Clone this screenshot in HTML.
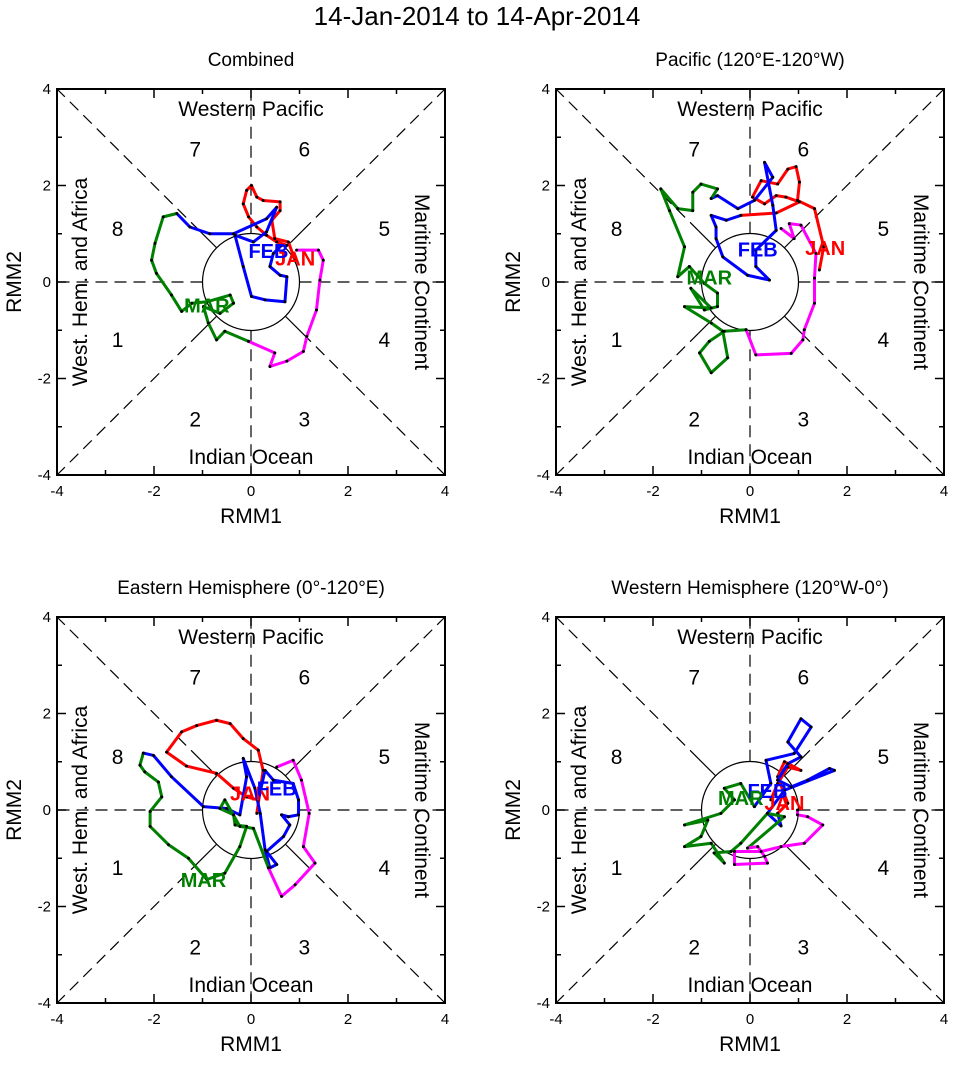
<!DOCTYPE html>
<html><head><meta charset="utf-8"><style>
body{margin:0;background:#fff}
svg text{font-family:"Liberation Sans",sans-serif}
</style></head><body>
<svg id="s" width="954" height="1060" xmlns="http://www.w3.org/2000/svg">
<text x="477" y="25" font-size="26" text-anchor="middle">14-Jan-2014 to 14-Apr-2014</text>
</svg>
<script>
const panelTitles=["Combined","Pacific (120°E-120°W)","Eastern Hemisphere (0°-120°E)","Western Hemisphere (120°W-0°)"];
const tickLabels=["-4","-2","0","2","4"];
const tickValues=[-4,-2,0,2,4];
const monthNames=["JAN","FEB","MAR"];
const monthColors=["#ff0000","#0000ff","#008000","#ff00ff"];
const jan1=[[0.91,0.45],[0.77,0.83],[0.49,0.90],[0.43,1.28],[0.60,1.48],[0.60,1.66],[0.25,1.69],[0.12,1.76],[0.01,2.0],[-0.09,1.90],[-0.16,1.62],[-0.05,1.35],[0.12,1.14],[0.32,0.97],[0.53,0.83],[0.74,0.76],[0.63,0.76]];
const feb1=[[0.63,0.76],[0.46,0.59],[0.39,0.32],[0.60,0.14],[0.74,0.11],[0.70,-0.41],[0.29,-0.37],[0.01,-0.30],[-0.16,0.32],[-0.33,0.97],[0.05,0.83],[0.32,1.04],[0.53,1.55],[0.32,1.31],[-0.36,1.0],[-0.85,1.0],[-1.26,1.14],[-1.53,1.42]];
const mar1=[[-1.53,1.42],[-1.81,1.35],[-1.98,0.80],[-2.05,0.45],[-1.95,0.18],[-1.64,-0.27],[-1.43,-0.61],[-1.22,-0.44],[-0.91,-0.41],[-0.43,-0.27],[-0.36,-0.44],[-0.64,-0.65],[-0.98,-0.51],[-0.88,-0.85],[-0.71,-1.20],[-0.54,-1.02],[-0.05,-1.23]];
const apr1=[[-0.05,-1.23],[0.49,-1.47],[0.39,-1.75],[0.74,-1.64],[1.08,-1.44],[1.15,-1.13],[1.35,-0.58],[1.42,0.04],[1.49,0.45],[1.39,0.66],[0.94,0.66]];
const jan2=[[1.43,0.25],[1.52,0.73],[1.33,1.52],[0.98,1.69],[1.02,2.07],[0.95,2.39],[0.78,2.34],[0.57,2.03],[0.23,2.10],[0.05,1.76],[0.30,1.62],[0.54,1.79],[0.74,1.76],[1.02,1.66],[0.54,1.43],[-0.19,1.38]];
const feb2=[[-0.19,1.38],[-0.49,1.28],[-0.80,1.38],[-0.70,1.14],[-0.70,0.90],[-0.56,0.52],[-0.05,0.14],[0.40,0.04],[0.12,0.32],[0.12,0.66],[0.54,1.07],[0.47,1.59],[0.30,2.48],[0.47,2.17],[0.09,1.69],[-0.25,1.52],[-0.67,1.79],[-0.80,1.73]];
const mar2=[[-0.80,1.73],[-0.67,1.93],[-1.01,2.03],[-1.18,1.86],[-1.18,1.48],[-1.49,1.52],[-1.84,1.93],[-1.66,1.48],[-1.35,0.73],[-1.49,0.11],[-1.25,0.32],[-0.94,-0.03],[-0.67,-0.23],[-0.67,-0.51],[-0.94,-0.58],[-1.22,-0.13],[-0.80,-0.54],[-1.35,-0.51],[-0.80,-0.85],[-0.56,-1.02],[-0.46,-1.57],[-0.80,-1.88],[-1.04,-1.47],[-0.84,-1.23],[-0.53,-1.02],[-0.08,-0.99]];
const apr2=[[-0.08,-0.99],[0.12,-1.51],[0.85,-1.48],[1.09,-1.20],[1.12,-0.99],[1.33,-0.44],[1.33,0.08],[1.36,0.59],[1.05,1.18],[0.81,1.21],[0.91,0.90],[0.64,1.11]];
const jan3=[[0.12,-0.07],[0.25,0.82],[0.15,1.24],[-0.16,1.48],[-0.43,1.79],[-0.71,1.86],[-1.12,1.75],[-1.43,1.62],[-1.74,1.20],[-1.33,0.91],[-0.71,0.76],[-0.36,0.45],[-0.09,0.27],[0.15,0.21]];
const feb3=[[0.15,0.21],[0.29,0.82],[0.46,0.62],[0.87,0.55],[0.98,0.21],[0.98,-0.10],[0.77,-0.14],[0.63,-0.10],[0.80,-0.31],[0.67,-0.55],[0.32,-0.86],[0.53,-1.13],[0.39,-1.20],[0.29,-0.82],[0.19,-0.07],[0.08,0.45],[-0.16,1.07],[-0.09,0.69],[-0.23,-0.10],[-0.50,0.03],[-0.98,0.07],[-1.64,0.69],[-2.01,1.13],[-2.22,1.18]];
const mar3=[[-2.22,1.18],[-2.29,0.93],[-2.19,0.79],[-1.91,0.58],[-1.84,0.27],[-2.08,-0.03],[-2.08,-0.34],[-1.70,-0.72],[-1.29,-1.0],[-0.91,-1.44],[-0.54,-1.31],[-0.23,-0.76],[-0.09,-0.34],[-0.33,-0.31],[-0.36,-0.10],[-0.64,0.03],[-0.54,0.21],[-0.23,-0.34],[0.05,-0.38],[0.36,-1.20]];
const apr3=[[0.36,-1.20],[0.63,-1.79],[0.91,-1.55],[1.32,-1.10],[1.08,-0.76],[1.20,-0.07],[1.04,0.62],[0.87,1.03],[0.53,0.89]];
const jan4=[[0.43,0.21],[0.57,0.55],[0.78,0.89],[1.05,0.82],[0.71,1.0],[0.57,0.69],[0.78,0.14],[0.57,-0.07]];
const feb4=[[0.57,-0.07],[0.64,-0.33],[0.36,-0.07],[0.71,0.41],[1.74,0.82],[1.64,0.86],[1.19,0.62],[0.85,0.48],[0.57,0.62],[0.78,0.96],[1.05,1.10],[0.78,1.41],[1.05,1.89],[1.26,1.72],[0.91,1.17],[0.33,1.03],[0.43,0.55],[0.09,0.07]];
const mar4=[[0.09,0.07],[-0.19,0.55],[-0.53,0.45],[-0.32,0.21],[-0.60,-0.07],[-1.35,-0.31],[-0.87,-0.21],[-1.01,-0.55],[-1.35,-0.76],[-0.80,-0.69],[-0.53,-1.10],[-0.74,-0.89],[-0.39,-0.86],[-0.19,-0.69],[0.36,-0.07],[0.71,-0.14],[-0.05,-0.79]];
const apr4=[[-0.05,-0.79],[0.16,-0.76],[0.30,-0.96],[0.36,-1.10],[-0.32,-1.13],[-0.32,-0.86],[0.23,-0.86],[0.64,-0.76],[1.12,-0.69],[1.50,-0.31],[1.19,-0.14],[0.98,-0.10],[0.98,0.0]];
const tracks=[[jan1,feb1,mar1,apr1],[jan2,feb2,mar2,apr2],[jan3,feb3,mar3,apr3],[jan4,feb4,mar4,apr4]];
const monthLabelPos=[[[0.91,0.51],[0.36,0.66],[-0.91,-0.47]],[[1.55,0.73],[0.16,0.69],[-0.84,0.11]],[[-0.02,0.36],[0.53,0.47],[-0.98,-1.43]],[[0.71,0.17],[0.36,0.41],[-0.19,0.27]]];

const S=document.getElementById('s');const NS='http://www.w3.org/2000/svg';
function mk(tag,attrs,parent,txt){const e=document.createElementNS(NS,tag);for(const k in attrs)e.setAttribute(k,attrs[k]);if(txt!==undefined)e.textContent=txt;(parent||S).appendChild(e);return e;}
const origins=[[57,89],[556,89],[57,617],[556,617]];
const W=388,H=386;
panelTitles.forEach((title,p)=>{
  const [ox,oy]=origins[p];
  const sx=v=>ox+(v+4)/8*W, sy=v=>oy+(4-v)/8*H;
  const g=mk('g',{});
  
  
  const t=mk('text',{x:ox+W/2,y:oy-23,'font-size':19,'text-anchor':'middle'},g,title);
  
  
  const cx=sx(0),cy=sy(0),r=sx(1)-sx(0);
  const dash={stroke:'#000','stroke-width':1.2,'stroke-dasharray':'12,7',fill:'none'};
  [[1,1],[1,-1],[-1,1],[-1,-1]].forEach(([a,b])=>{
    const d=Math.SQRT1_2;
    mk('line',{x1:sx(a*d),y1:sy(b*d),x2:sx(a*1.5*d),y2:sy(b*1.5*d),stroke:'#000','stroke-width':1.2},g);
    mk('line',Object.assign({x1:sx(a*1.5*d),y1:sy(b*1.5*d),x2:sx(a*4),y2:sy(b*4)},dash),g);
  });
  [[1,0],[-1,0],[0,1],[0,-1]].forEach(([a,b])=>{
    mk('line',Object.assign({x1:sx(a),y1:sy(b),x2:sx(a*4),y2:sy(b*4)},dash),g);
  });
  const c=mk('circle',{cx:cx,cy:cy,r:r,fill:'none',stroke:'#000','stroke-width':1.2},g);
  
  
  const fr=mk('rect',{x:ox,y:oy,width:W,height:H,fill:'none',stroke:'#000','stroke-width':2},g);
  
  
  for(let v=-4;v<=4;v++){
    const L=(v%2===0)?9:5;
    mk('line',{x1:sx(v),y1:oy+H,x2:sx(v),y2:oy+H-L,stroke:'#000','stroke-width':1.5},g);
    mk('line',{x1:sx(v),y1:oy,x2:sx(v),y2:oy+L,stroke:'#000','stroke-width':1.5},g);
    mk('line',{x1:ox,y1:sy(v),x2:ox+L,y2:sy(v),stroke:'#000','stroke-width':1.5},g);
    mk('line',{x1:ox+W,y1:sy(v),x2:ox+W-L,y2:sy(v),stroke:'#000','stroke-width':1.5},g);
  }
  tickValues.forEach((v,i)=>{
    const a=mk('text',{x:sx(v),y:oy+H+21,'font-size':15,'text-anchor':'middle'},g,tickLabels[i]);
    
    
    const b=mk('text',{x:ox-6,y:sy(v)+5,'font-size':15,'text-anchor':'end'},g,tickLabels[i]);
    
    
  });
  const xt=mk('text',{x:ox+W/2,y:oy+H+48,'font-size':21,'text-anchor':'middle'},g,'RMM1');
  
  
  const yt=mk('text',{x:0,y:0,'font-size':21,'text-anchor':'middle',transform:`translate(${ox-36},${oy+H/2}) rotate(-90)`},g,'RMM2');
  
  
  const reg=[['Western Pacific',cx,oy+27],['Indian Ocean',cx,oy+375]];
  reg.forEach(([s,x,y])=>{const e=mk('text',{x:x,y:y,'font-size':21,'text-anchor':'middle'},g,s);
    
    });
  const wl=mk('text',{x:0,y:0,'font-size':21,'text-anchor':'middle',transform:`translate(${ox+30},${cy}) rotate(-90)`},g,'West. Hem. and Africa');
  
  
  const ml=mk('text',{x:0,y:0,'font-size':21,'text-anchor':'middle',transform:`translate(${ox+W-30},${cy}) rotate(90)`},g,'Maritime Continent');
  
  
  const ph=[['7',-1.15,2.75],['6',1.1,2.75],['8',-2.75,1.1],['5',2.75,1.1],['1',-2.75,-1.2],['4',2.75,-1.2],['2',-1.15,-2.85],['3',1.1,-2.85]];
  ph.forEach(([s,a,b])=>{const e=mk('text',{x:sx(a),y:sy(b)+7,'font-size':21,'text-anchor':'middle'},g,s);
    
    });
  tracks[p].forEach((pts,m)=>{
    const pl=mk('polyline',{points:pts.map(q=>sx(q[0])+','+sy(q[1])).join(' '),fill:'none',stroke:monthColors[m],'stroke-width':3,'stroke-linejoin':'round'},g);
    
    
    pts.forEach(q=>{const d=mk('circle',{cx:sx(q[0]),cy:sy(q[1]),r:1.5,fill:'#000'},g);
      
      });
  });
  monthLabelPos[p].forEach((q,m)=>{
    const e=mk('text',{x:sx(q[0]),y:sy(q[1])+8,'font-size':20,'font-weight':'bold','text-anchor':'middle',fill:monthColors[m]},g,monthNames[m]);
    
    
  });
});
</script>
</body></html>
